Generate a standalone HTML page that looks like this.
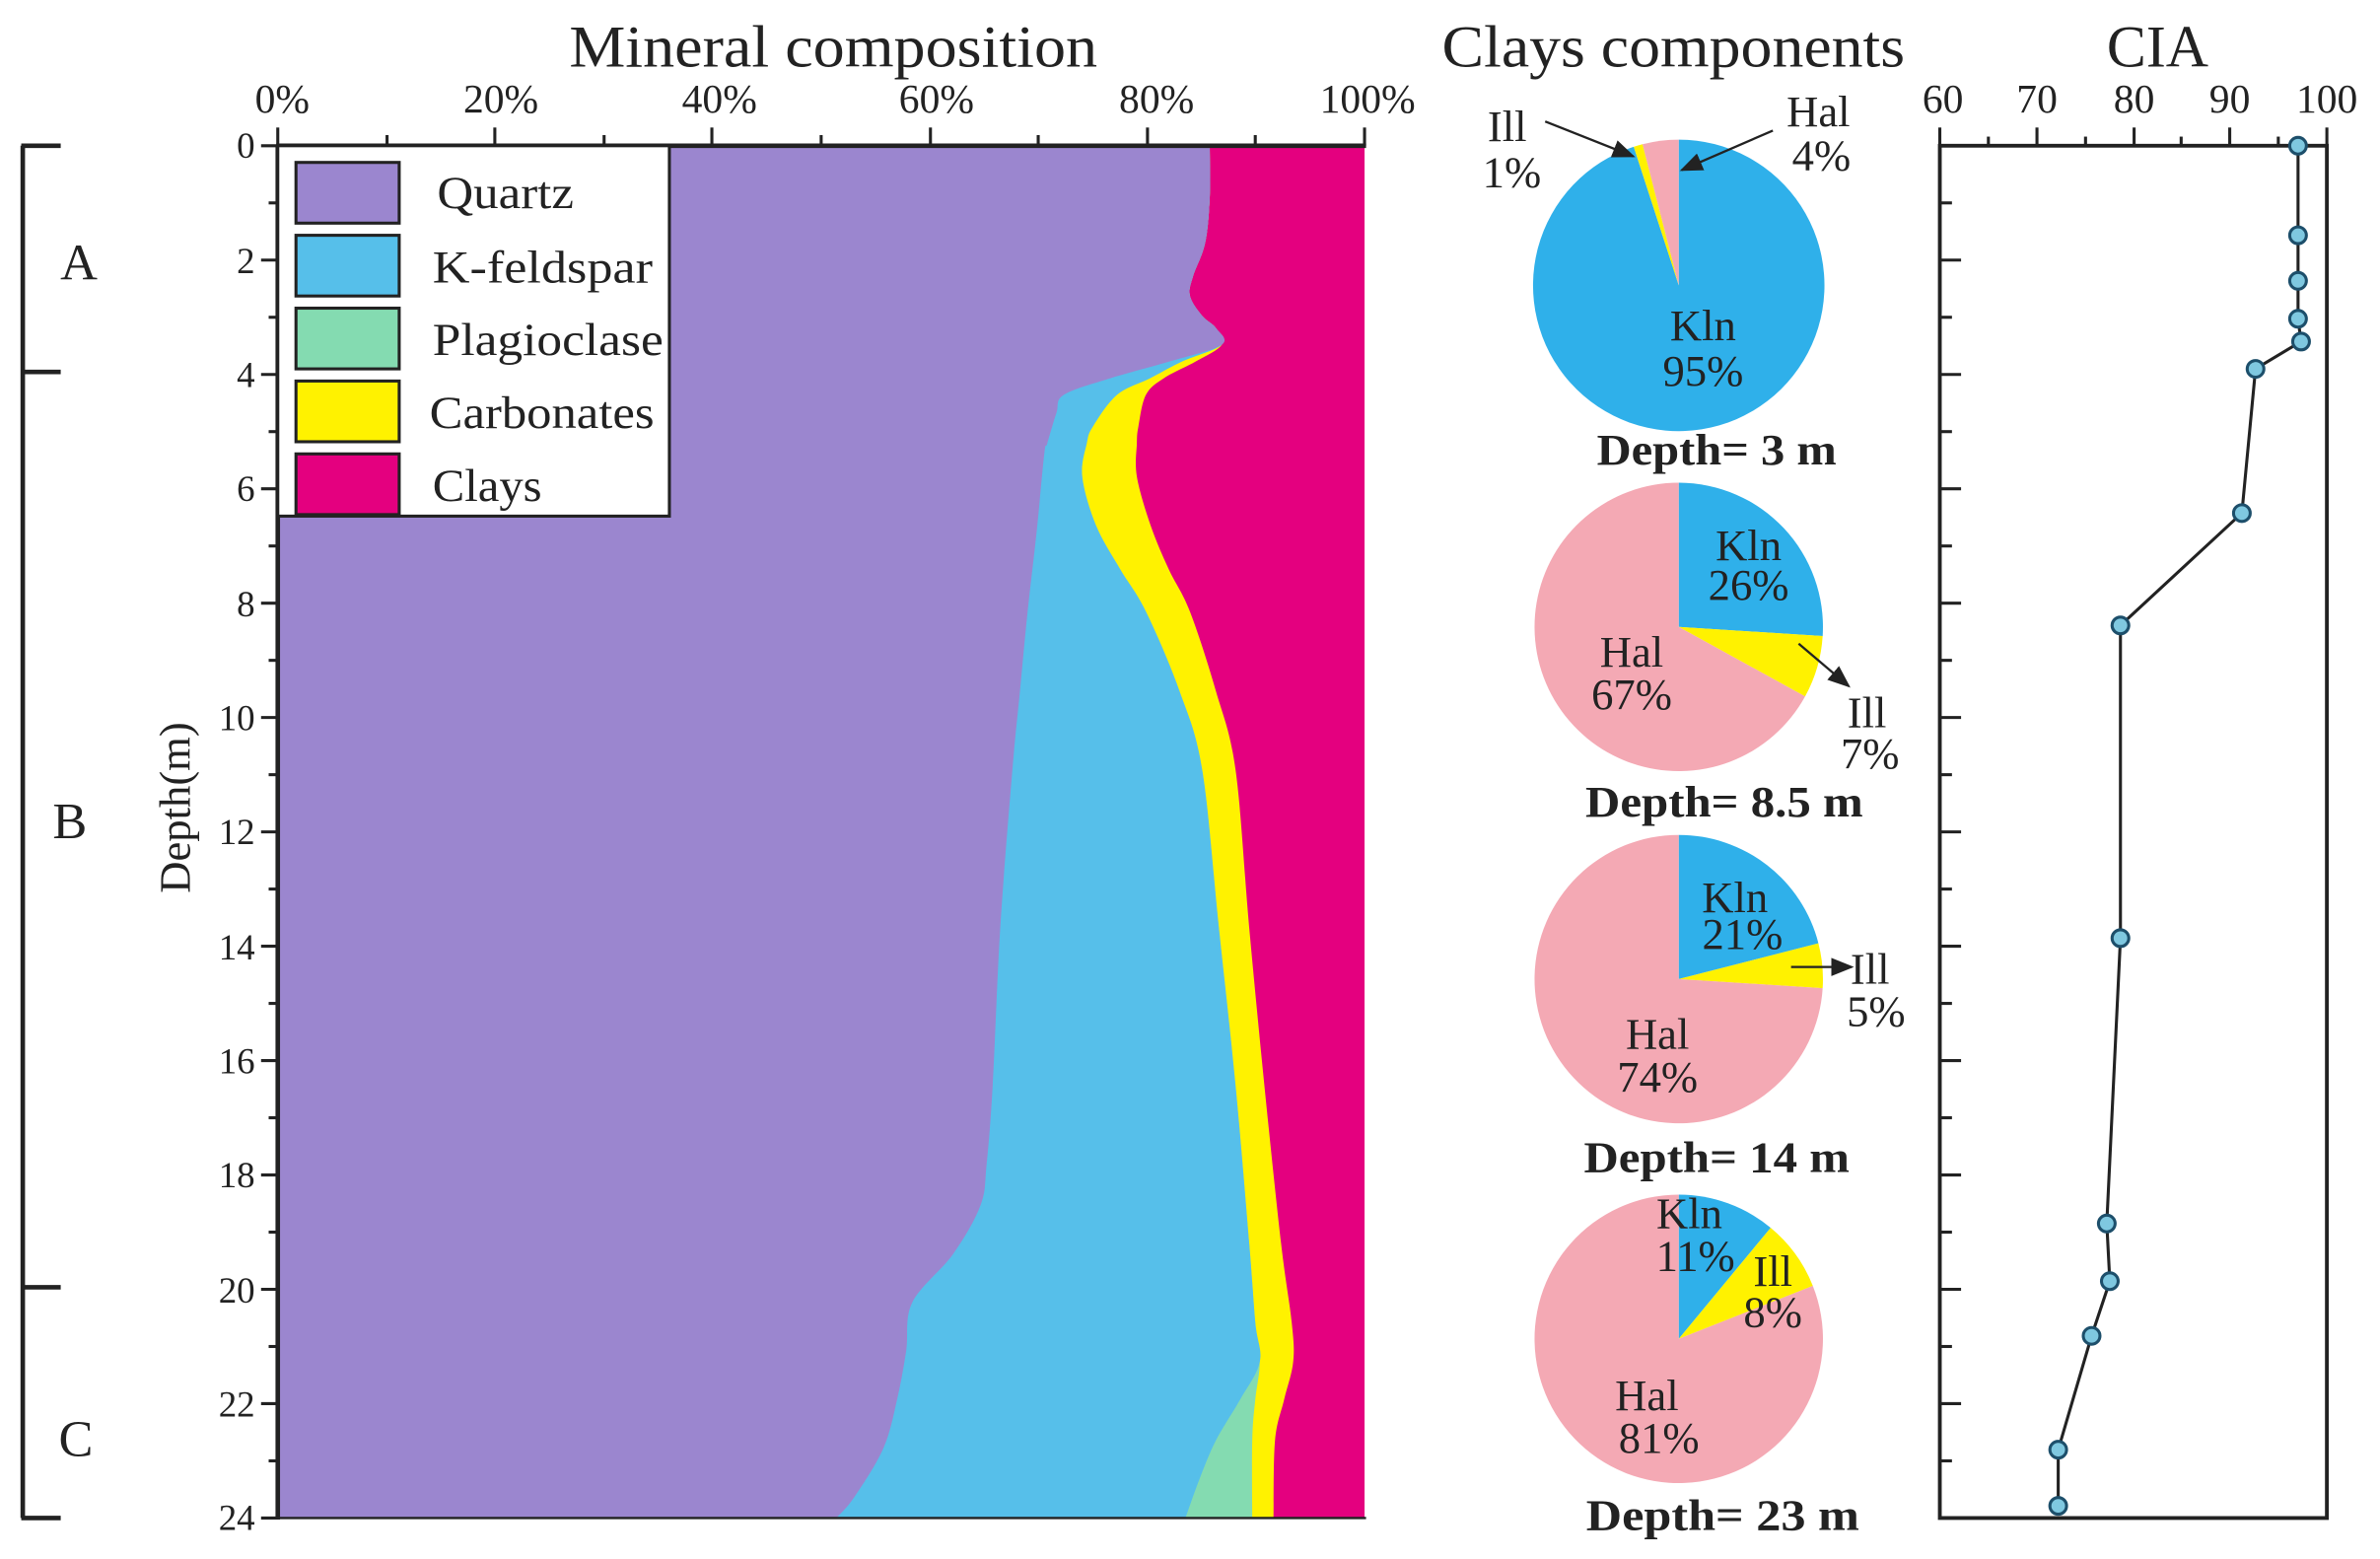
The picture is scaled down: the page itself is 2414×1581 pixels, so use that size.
<!DOCTYPE html>
<html><head><meta charset="utf-8"><style>html,body{margin:0;padding:0;background:#fff}svg{display:block}text{font-family:"Liberation Serif",serif;fill:#222}</style></head>
<body>
<svg width="2414" height="1581" viewBox="0 0 1568 1027" preserveAspectRatio="none" xmlns="http://www.w3.org/2000/svg">
<rect width="1568" height="1027" fill="#fff"/>
<rect x="183" y="96" width="716" height="904" fill="#e4007f"/>
<path id="pc" fill="#fff200"/>
<path id="pp" fill="#84dbb1"/>
<path id="pk" fill="#56bfea"/>
<path id="pq" fill="#9b86cf"/>
<g stroke="#222" stroke-width="3" fill="none">
<line x1="182" y1="96" x2="900" y2="96"/>
<line x1="183" y1="96" x2="183" y2="1001"/>
<line x1="183" y1="1000" x2="900" y2="1000" stroke-width="1.5"/>
</g>
<g stroke="#222" stroke-width="2">
<line x1="183" y1="96" x2="183" y2="84"/><line x1="255" y1="96" x2="255" y2="89"/><line x1="326" y1="96" x2="326" y2="84"/><line x1="398" y1="96" x2="398" y2="89"/><line x1="469" y1="96" x2="469" y2="84"/><line x1="541" y1="96" x2="541" y2="89"/><line x1="613" y1="96" x2="613" y2="84"/><line x1="684" y1="96" x2="684" y2="89"/><line x1="756" y1="96" x2="756" y2="84"/><line x1="827" y1="96" x2="827" y2="89"/><line x1="899" y1="96" x2="899" y2="84"/>
</g>
<g font-size="27" text-anchor="middle">
<text x="186" y="74">0%</text><text x="330" y="74">20%</text><text x="474" y="74">40%</text><text x="617" y="74">60%</text><text x="762" y="74">80%</text><text x="901" y="74">100%</text>
</g>
<text x="375" y="44" font-size="39" textLength="348" lengthAdjust="spacingAndGlyphs">Mineral composition</text>
<g id="yt" stroke="#222" stroke-width="2"></g>
<g font-size="24" text-anchor="end">
<text x="168" y="104">0</text><text x="168" y="180">2</text><text x="168" y="255">4</text><text x="168" y="330">6</text><text x="168" y="406">8</text><text x="168" y="481">10</text><text x="168" y="556">12</text><text x="168" y="632">14</text><text x="168" y="707">16</text><text x="168" y="782">18</text><text x="168" y="858">20</text><text x="168" y="933">22</text><text x="168" y="1008">24</text>
</g>
<text x="0" y="0" font-size="29" text-anchor="middle" transform="translate(125,532) rotate(-90)">Depth(m)</text>
<g stroke="#222" stroke-width="3" fill="none">
<line x1="15" y1="96" x2="15" y2="1000"/><line x1="14" y1="96" x2="40" y2="96"/><line x1="14" y1="245" x2="40" y2="245"/><line x1="14" y1="848" x2="40" y2="848"/><line x1="14" y1="1000" x2="40" y2="1000"/>
</g>
<g font-size="34" text-anchor="middle"><text x="52" y="184">A</text><text x="46" y="552">B</text><text x="50" y="959">C</text></g>
<rect x="183" y="96" width="258" height="244" fill="#fff" stroke="#222" stroke-width="2"/>
<g stroke="#222" stroke-width="2">
<rect x="195" y="107" width="68" height="40" fill="#9b86cf"/>
<rect x="195" y="155" width="68" height="40" fill="#56bfea"/>
<rect x="195" y="203" width="68" height="40" fill="#84dbb1"/>
<rect x="195" y="251" width="68" height="40" fill="#fff200"/>
<rect x="195" y="299" width="68" height="40" fill="#e4007f"/>
</g>
<g font-size="30"><text x="288" y="137" textLength="90" lengthAdjust="spacingAndGlyphs">Quartz</text><text x="285" y="186" textLength="145" lengthAdjust="spacingAndGlyphs">K-feldspar</text><text x="285" y="234" textLength="152" lengthAdjust="spacingAndGlyphs">Plagioclase</text><text x="283" y="282" textLength="148" lengthAdjust="spacingAndGlyphs">Carbonates</text><text x="285" y="330" textLength="72" lengthAdjust="spacingAndGlyphs">Clays</text></g>
<text x="950" y="44" font-size="39" textLength="305" lengthAdjust="spacingAndGlyphs">Clays components</text>
<g id="pies"></g>
<g font-size="29" text-anchor="middle">
<text x="993" y="93">Ill</text><text x="996" y="123">1%</text><text x="1198" y="83">Hal</text><text x="1200" y="112">4%</text>
<text x="1122" y="224">Kln</text><text x="1122" y="254">95%</text>
<text x="1152" y="369">Kln</text><text x="1152" y="395">26%</text><text x="1075" y="439">Hal</text><text x="1075" y="467">67%</text><text x="1230" y="479">Ill</text><text x="1232" y="506">7%</text>
<text x="1143" y="601">Kln</text><text x="1148" y="625">21%</text><text x="1232" y="648">Ill</text><text x="1236" y="676">5%</text><text x="1092" y="691">Hal</text><text x="1092" y="719">74%</text>
<text x="1113" y="809">Kln</text><text x="1117" y="837">11%</text><text x="1168" y="847">Ill</text><text x="1168" y="874">8%</text><text x="1085" y="929">Hal</text><text x="1093" y="957">81%</text>
</g>
<g font-size="29" font-weight="bold" text-anchor="middle">
<text x="1131" y="306" textLength="158" lengthAdjust="spacingAndGlyphs">Depth= 3 m</text><text x="1136" y="538" textLength="183" lengthAdjust="spacingAndGlyphs">Depth= 8.5 m</text><text x="1131" y="772" textLength="175" lengthAdjust="spacingAndGlyphs">Depth= 14 m</text><text x="1135" y="1008" textLength="180" lengthAdjust="spacingAndGlyphs">Depth= 23 m</text>
</g>
<defs><marker id="ar" markerWidth="10" markerHeight="10" refX="9" refY="5" orient="auto"><path d="M0,1 L10,5 L0,9Z" fill="#222"/></marker></defs>
<g stroke="#222" stroke-width="1.5" marker-end="url(#ar)">
<line x1="1018" y1="80" x2="1076" y2="103"/>
<line x1="1168" y1="86" x2="1108" y2="112"/>
<line x1="1185" y1="424" x2="1218" y2="452"/>
<line x1="1180" y1="637" x2="1220" y2="637"/>
</g>
<text x="1388" y="44" font-size="39" textLength="67" lengthAdjust="spacingAndGlyphs">CIA</text>
<rect x="1278" y="96" width="255" height="904" fill="none" stroke="#222" stroke-width="2.5"/>
<g stroke="#222" stroke-width="2">
<line x1="1278" y1="96" x2="1278" y2="84"/><line x1="1310" y1="96" x2="1310" y2="90"/><line x1="1342" y1="96" x2="1342" y2="84"/><line x1="1374" y1="96" x2="1374" y2="90"/><line x1="1406" y1="96" x2="1406" y2="84"/><line x1="1437" y1="96" x2="1437" y2="90"/><line x1="1469" y1="96" x2="1469" y2="84"/><line x1="1501" y1="96" x2="1501" y2="90"/><line x1="1533" y1="96" x2="1533" y2="84"/>
</g>
<g font-size="27" text-anchor="middle"><text x="1280" y="74">60</text><text x="1342" y="74">70</text><text x="1406" y="74">80</text><text x="1469" y="74">90</text><text x="1533" y="74">100</text></g>
<g id="ct" stroke="#222" stroke-width="2"></g>
<polyline fill="none" stroke="#222" stroke-width="2" points="1514,96 1514,155 1514,185 1514,210 1516,225 1486,243 1477,338 1397,412 1397,618 1388,806 1390,844 1378,880 1356,955 1356,992"/>
<g fill="#7fc8e0" stroke="#1d4f6b" stroke-width="2">
<circle cx="1514" cy="96" r="5.5"/><circle cx="1514" cy="155" r="5.5"/><circle cx="1514" cy="185" r="5.5"/><circle cx="1514" cy="210" r="5.5"/><circle cx="1516" cy="225" r="5.5"/><circle cx="1486" cy="243" r="5.5"/><circle cx="1477" cy="338" r="5.5"/><circle cx="1397" cy="412" r="5.5"/><circle cx="1397" cy="618" r="5.5"/><circle cx="1388" cy="806" r="5.5"/><circle cx="1390" cy="844" r="5.5"/><circle cx="1378" cy="880" r="5.5"/><circle cx="1356" cy="955" r="5.5"/><circle cx="1356" cy="992" r="5.5"/>
</g>
</svg>
<script>
(function(){
var ns="http://www.w3.org/2000/svg";
function L(g,x1,y1,x2,y2){var l=document.createElementNS(ns,"line");l.setAttribute("x1",x1);l.setAttribute("y1",y1);l.setAttribute("x2",x2);l.setAttribute("y2",y2);g.appendChild(l);}
var yt=document.getElementById("yt"),ct=document.getElementById("ct");
for(var d=0;d<=24;d++){var y=96+d*37.667;var maj=d%2==0;L(yt,183,y,maj?172:177,y);if(d>0&&d<24)L(ct,1278,y,maj?1292:1286,y);}
function cr(p){var s="";for(var i=0;i<p.length-1;i++){var p0=p[Math.max(i-1,0)],p1=p[i],p2=p[i+1],p3=p[Math.min(i+2,p.length-1)];
s+=" C"+(p1[0]+(p2[0]-p0[0])/6)+","+(p1[1]+(p2[1]-p0[1])/6)+" "+(p2[0]-(p3[0]-p1[0])/6)+","+(p2[1]-(p3[1]-p1[1])/6)+" "+p2[0]+","+p2[1];}return s;}
var T0=[[797,96],[797,130],[794,160],[786,182],[784,195],[792,208],[801,216],[805,227]];
var Q=T0.concat([[771,238],[732,249],[701,260],[696,272],[690,292],[688,299],[683,350],[677,403],[672,455],[667,507],[659,611],[654,715],[650,767],[646,794],[628,826],[601,858],[597,890],[591,922],[582,954],[563,986],[551,1000]]);
var KM=[[779,238],[758,249],[736,260],[720,281],[716,292],[713,314],[722,346],[738,375],[755,403],[777,455],[792,507],[803,611],[814,715],[823,819],[827,871],[830,897]];
var K=T0.concat(KM).concat([[817,922],[801,949],[790,975],[781,1000]]);
var P=T0.concat(KM).concat([[827,922],[825,949],[825,1000]]);
var C=T0.concat([[788,238],[767,249],[755,260],[750,281],[749,292],[749,314],[758,346],[770,375],[784,403],[801,455],[814,507],[823,611],[833,715],[844,819],[851,871],[852,897],[846,922],[840,949],[839,1000]]);
function area(id,pts){document.getElementById(id).setAttribute("d","M183,96 L"+pts[0][0]+","+pts[0][1]+cr(pts)+" L183,1000Z");}
area("pq",Q);area("pk",K);area("pp",P);area("pc",C);
var pies=document.getElementById("pies");
function pie(cx,cy,r,segs){var a=0;segs.forEach(function(s){var a0=a*2*Math.PI-Math.PI/2;a+=s[0];var a1=a*2*Math.PI-Math.PI/2;
var p=document.createElementNS(ns,"path");var large=s[0]>0.5?1:0;
p.setAttribute("d","M"+cx+","+cy+" L"+(cx+r*Math.cos(a0))+","+(cy+r*Math.sin(a0))+" A"+r+","+r+" 0 "+large+" 1 "+(cx+r*Math.cos(a1))+","+(cy+r*Math.sin(a1))+"Z");
p.setAttribute("fill",s[1]);pies.appendChild(p);});}
var B="#2fb0ea",Y="#fff200",Pk="#f4a9b4";
pie(1106,188,96,[[0.95,B],[0.01,Y],[0.04,Pk]]);
pie(1106,413,95,[[0.26,B],[0.07,Y],[0.67,Pk]]);
pie(1106,645,95,[[0.21,B],[0.05,Y],[0.74,Pk]]);
pie(1106,882,95,[[0.11,B],[0.08,Y],[0.81,Pk]]);
})();
</script>
</body></html>
